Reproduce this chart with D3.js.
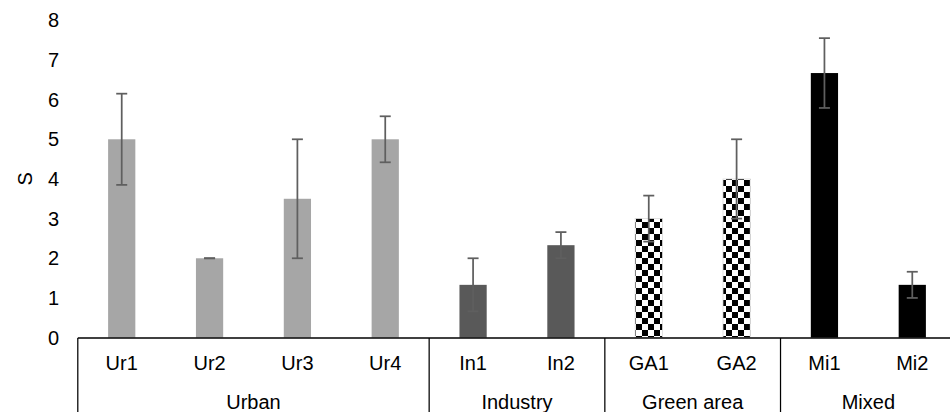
<!DOCTYPE html>
<html>
<head>
<meta charset="utf-8">
<script src="https://cdn.jsdelivr.net/npm/d3@7"></script>
<style>
  html, body { margin: 0; padding: 0; background: #fff; }
  svg { display: block; font-family: "Liberation Sans", Arial, sans-serif; }
</style>
</head>
<body>
<svg id="chart" width="950" height="412"></svg>
<script>
// Sites, their land-use groups, mean S and error (±)
const sites  = ["Ur1", "Ur2", "Ur3", "Ur4", "In1", "In2", "GA1", "GA2", "Mi1", "Mi2"];
const groupOf = ["Urban", "Urban", "Urban", "Urban", "Industry", "Industry", "Green area", "Green area", "Mixed", "Mixed"];
const values = [5, 2, 3.5, 5, 1.33, 2.33, 3, 4, 6.67, 1.33];
const errors = [1.15, 0, 1.5, 0.58, 0.67, 0.33, 0.58, 1, 0.88, 0.33];
const groups = ["Urban", "Industry", "Green area", "Mixed"];
const yTicks = [0, 1, 2, 3, 4, 5, 6, 7, 8];

const svg = d3.select("#chart");
const W = 950, H = 412;
const FS = "20px";

// checkerboard fill for the green-area bars
const defs = svg.append("defs");
const pat = defs.append("pattern")
  .attr("id", "checker")
  .attr("patternUnits", "userSpaceOnUse")
  .attr("width", 12).attr("height", 12);
pat.append("rect").attr("width", 12).attr("height", 12).attr("fill", "#fff");
pat.append("rect").attr("x", 0).attr("y", 0).attr("width", 6).attr("height", 6).attr("fill", "#000");
pat.append("rect").attr("x", 6).attr("y", 6).attr("width", 6).attr("height", 6).attr("fill", "#000");

const groupFill = {
  "Urban": "#a6a6a6",
  "Industry": "#595959",
  "Green area": "url(#checker)",
  "Mixed": "#000000"
};

const x = d3.scaleBand()
  .domain(sites)
  .range([77.8, 956.2])
  .paddingInner(0.69)
  .paddingOuter(0.345);

const y = d3.scaleLinear().domain([0, 8]).range([337.6, 20.3]);

// y tick labels (no axis line, no gridlines)
const yAxis = d3.axisLeft(y).tickValues(yTicks).tickSize(0).tickPadding(0);
const yg = svg.append("g").attr("transform", "translate(59,0)").call(yAxis);
yg.select(".domain").remove();
yg.selectAll("text")
  .attr("font-family", "Liberation Sans, Arial, sans-serif")
  .attr("font-size", FS)
  .attr("fill", "#000");

// y-axis title
svg.append("text")
  .attr("transform", `translate(25,${y(4)}) rotate(-90)`)
  .attr("text-anchor", "middle")
  .attr("dy", "0.35em")
  .attr("font-size", FS)
  .attr("fill", "#000")
  .text("S");

// bars
const data = sites.map((s, i) => ({ site: s, group: groupOf[i], v: values[i], e: errors[i] }));
const bw = x.bandwidth();

svg.append("g").selectAll("rect")
  .data(data)
  .join("rect")
  .attr("x", d => x(d.site))
  .attr("y", d => y(d.v))
  .attr("width", bw)
  .attr("height", d => y(0) - y(d.v))
  .attr("fill", d => groupFill[d.group])
  .attr("stroke", d => d.group === "Green area" ? "#d9d9d9" : "none")
  .attr("stroke-width", 0.75);

// error bars
const eg = svg.append("g")
  .attr("stroke", "#5f5f5f")
  .attr("stroke-width", 1.75)
  .attr("fill", "none");
const cap = 5.5;
data.forEach(d => {
  const cx = x(d.site) + bw / 2;
  const y1 = y(d.v + d.e), y2 = y(d.v - d.e);
  eg.append("line").attr("x1", cx).attr("x2", cx).attr("y1", y1).attr("y2", y2);
  eg.append("line").attr("x1", cx - cap).attr("x2", cx + cap).attr("y1", y1).attr("y2", y1);
  eg.append("line").attr("x1", cx - cap).attr("x2", cx + cap).attr("y1", y2).attr("y2", y2);
});

// category axis: baseline, site labels, group labels and dividers
const axisY = 338;
svg.append("line")
  .attr("x1", 77.8).attr("x2", W)
  .attr("y1", axisY).attr("y2", axisY)
  .attr("stroke", "#000").attr("stroke-width", 1.5);

svg.append("g").selectAll("text")
  .data(sites)
  .join("text")
  .attr("x", d => x(d) + bw / 2)
  .attr("y", 363)
  .attr("dy", "0.35em")
  .attr("text-anchor", "middle")
  .attr("font-size", FS)
  .attr("fill", "#000")
  .text(d => d);

const step = x.step();
const groupSpans = groups.map(g => {
  const idx = sites.map((s, i) => i).filter(i => groupOf[i] === g);
  const first = idx[0], last = idx[idx.length - 1];
  const x0 = x.range()[0] + first * step;
  const x1 = x.range()[0] + (last + 1) * step;
  return { g, x0, x1 };
});

svg.append("g").selectAll("text")
  .data(groupSpans)
  .join("text")
  .attr("x", d => (d.x0 + d.x1) / 2)
  .attr("y", 402)
  .attr("dy", "0.35em")
  .attr("text-anchor", "middle")
  .attr("font-size", FS)
  .attr("fill", "#000")
  .text(d => d.g);

// vertical dividers between groups
const dividers = [groupSpans[0].x0].concat(groupSpans.map(d => d.x1));
svg.append("g").selectAll("line")
  .data(dividers)
  .join("line")
  .attr("x1", d => d).attr("x2", d => d)
  .attr("y1", axisY).attr("y2", H)
  .attr("stroke", "#000").attr("stroke-width", 1.25);
</script>
</body>
</html>
